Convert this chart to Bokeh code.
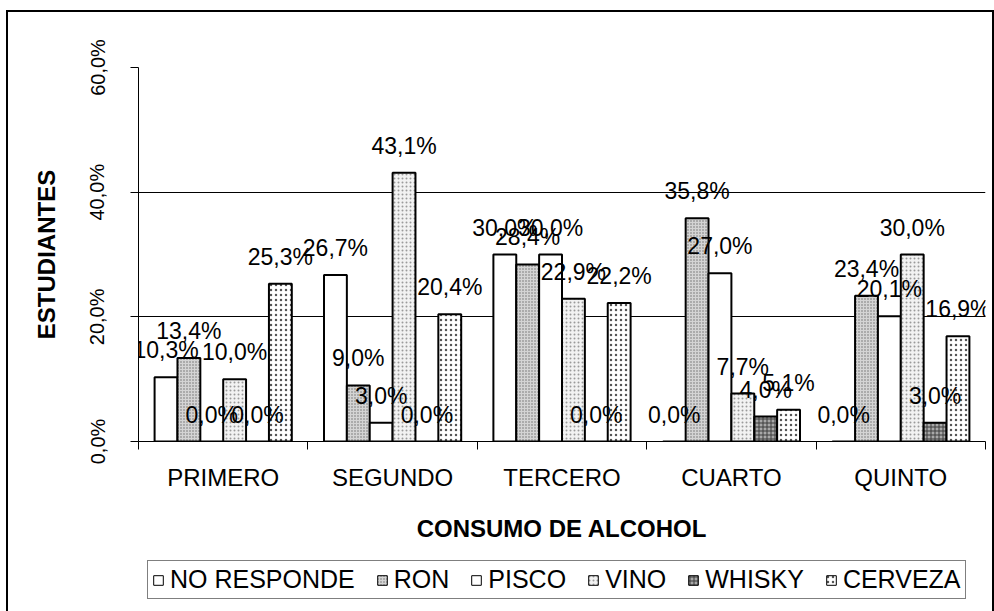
from bokeh.plotting import figure
from bokeh.models import (Range1d, LinearAxis, FixedTicker, ColumnDataSource, Legend, LegendItem,
                          LabelSet)
from bokeh.layouts import column
from bokeh.core.properties import value
from bokeh.embed import file_html
from bokeh.resources import INLINE

categories = ["PRIMERO", "SEGUNDO", "TERCERO", "CUARTO", "QUINTO"]
series_names = ["NO RESPONDE", "RON", "PISCO", "VINO", "WHISKY", "CERVEZA"]
no_responde = [10.3, 26.7, 30.0, 0.0, 0.0]
ron = [13.4, 9.0, 28.4, 35.8, 23.4]
pisco = [0.0, 3.0, 30.0, 27.0, 20.1]
vino = [10.0, 43.1, 22.9, 7.7, 30.0]
whisky = [0.0, 0.0, 0.0, 4.0, 3.0]
cerveza = [25.3, 20.4, 22.2, 5.1, 16.9]
y_ticks = [0, 20, 40, 60]
y_tick_labels = ["0,0%", "20,0%", "40,0%", "60,0%"]
x_title = "CONSUMO DE ALCOHOL"
y_title = "ESTUDIANTES"

series_values = [no_responde, ron, pisco, vino, whisky, cerveza]

# styles per series: (fill, hatch pattern, hatch color, hatch scale)
styles = [
    ("white", None, None, 1),
    ("#d4d4d4", "dot", "#6e6e6e", 3),
    ("white", None, None, 1),
    ("#f2f2f2", "dot", "#9a9a9a", 4),
    ("#a8a8a8", "cross", "#3c3c3c", 4),
    ("white", "dot", "#555555", 5),
]

FONT = "Liberation Sans"
ncat = len(categories)
centers = [i + 0.5 for i in range(ncat)]

p = figure(x_range=Range1d(0, ncat), y_range=Range1d(0, 60),
           width=984, height=535, output_backend="svg", toolbar_location=None,
           x_axis_location=None, y_axis_location=None,
           min_border_left=130, min_border_top=55, min_border_right=7,
           min_border_bottom=106)
p.outline_line_color = None
p.background_fill_color = "white"
p.border_fill_color = "white"

# y axis
yaxis = LinearAxis(ticker=FixedTicker(ticks=y_ticks),
                   major_label_overrides={t: l for t, l in zip(y_ticks, y_tick_labels)})
yaxis.axis_label = y_title
yaxis.axis_label_text_font = FONT
yaxis.axis_label_text_font_style = "bold"
yaxis.axis_label_text_font_size = "24px"
yaxis.axis_label_text_color = "black"
yaxis.axis_label_standoff = 24
yaxis.major_label_text_font = FONT
yaxis.major_label_text_font_size = "20px"
yaxis.major_label_orientation = "vertical"
yaxis.major_label_standoff = 22
yaxis.major_tick_out = 8
yaxis.major_tick_in = 0
yaxis.minor_tick_line_color = None
yaxis.axis_line_color = "black"
yaxis.major_tick_line_color = "black"
yaxis.major_label_text_color = "black"
p.add_layout(yaxis, "left")

# grid
p.ygrid.ticker = FixedTicker(ticks=y_ticks[1:])
p.ygrid.grid_line_color = "black"
p.ygrid.grid_line_width = 1
p.xgrid.grid_line_color = None

# x axes: tick marks at category boundaries, labels at centers
bounds = list(range(ncat + 1))
tick_axis = LinearAxis(ticker=FixedTicker(ticks=bounds),
                       major_label_overrides={b: "" for b in bounds})
tick_axis.major_label_text_font_size = "1px"
tick_axis.major_label_standoff = 0
tick_axis.major_tick_out = 8
tick_axis.major_tick_in = 0
tick_axis.minor_tick_line_color = None
tick_axis.axis_line_color = "black"
tick_axis.major_tick_line_color = "black"

cat_axis = LinearAxis(ticker=FixedTicker(ticks=centers),
                      major_label_overrides={c: n for c, n in zip(centers, categories)})
cat_axis.axis_line_color = None
cat_axis.major_tick_line_color = None
cat_axis.minor_tick_line_color = None
cat_axis.major_tick_out = 0
cat_axis.major_tick_in = 0
cat_axis.major_label_standoff = 14
cat_axis.major_label_text_font = FONT
cat_axis.major_label_text_font_size = "24px"
cat_axis.major_label_text_color = "black"
cat_axis.axis_label = x_title
cat_axis.axis_label_text_font = FONT
cat_axis.axis_label_text_font_style = "bold"
cat_axis.axis_label_text_font_size = "24px"
cat_axis.axis_label_text_color = "black"
cat_axis.axis_label_standoff = 21
p.below = [tick_axis, cat_axis]

# legend lives in its own strip below the chart; its swatch renderers use the
# same series data but fall far outside this strip's y range, so only the legend shows
pl = figure(x_range=Range1d(0, ncat), y_range=Range1d(1000, 1001), width=984, height=64,
            output_backend="svg", toolbar_location=None,
            x_axis_location=None, y_axis_location=None,
            min_border_left=0, min_border_right=0, min_border_top=0, min_border_bottom=0)
pl.outline_line_color = None
pl.xgrid.grid_line_color = None
pl.ygrid.grid_line_color = None
pl.background_fill_color = "white"
pl.border_fill_color = "white"

bw = 0.135
items = []
for i, (name, vals) in enumerate(zip(series_names, series_values)):
    off = (i - (len(series_names) - 1) / 2) * bw
    xs = [c + off for c in centers]
    src = ColumnDataSource(dict(x=xs, val=vals,
                                lab=[f"{v:.1f}%".replace(".", ",") for v in vals]))
    fill, hatch, hcol, hscale = styles[i]
    kw = dict(fill_color=fill, line_color="black", line_width=2)
    if hatch:
        kw.update(hatch_pattern=hatch, hatch_color=hcol, hatch_scale=hscale, hatch_weight=1)
    p.vbar(x="x", top="val", width=bw, bottom=0, source=src, **kw)
    labels = LabelSet(x="x", y="val", text="lab", source=src,
                      text_align="center", text_baseline="alphabetic", y_offset=19,
                      text_font=value(FONT), text_font_size="23px", text_color="black")
    p.add_layout(labels)
    kw_leg = dict(kw)
    kw_leg["line_width"] = 1
    rl = pl.vbar(x="x", top="val", width=bw, bottom=0, source=src, **kw_leg)
    items.append(LegendItem(label=name, renderers=[rl]))

legend = Legend(items=items, orientation="horizontal", location=(9, 12))
legend.label_text_font = FONT
legend.label_text_font_size = "25px"
legend.label_text_color = "black"
legend.glyph_width = 12
legend.glyph_height = 12
legend.label_standoff = 6
legend.spacing = 21
legend.padding = 4
legend.margin = 0
legend.border_line_color = "black"
legend.border_line_width = 1
legend.background_fill_color = "white"
pl.add_layout(legend)

layout = column(p, pl, spacing=0)
layout.styles = {"margin-left": "8px", "margin-top": "12px", "outline": "2px solid black"}

open("out.html", "w").write(file_html(layout, INLINE))
